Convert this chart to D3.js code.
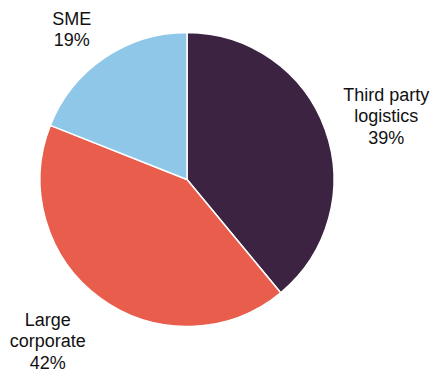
<!DOCTYPE html>
<html>
<head>
<meta charset="utf-8">
<script src="https://cdn.jsdelivr.net/npm/d3@7"></script>
<style>
  html, body { margin: 0; padding: 0; background: #fff; }
  svg { display: block; }
  text { font-family: "Liberation Sans", Arial, sans-serif; font-size: 18px; fill: #111; }
</style>
</head>
<body>
<script>
// Share of customers by segment
const categories = ["Third party logistics", "Large corporate", "SME"];
const labelLines = [["Third party", "logistics"], ["Large", "corporate"], ["SME"]];
const values = [39, 42, 19];
const colors = ["#3c2341", "#e85d4c", "#8fc7e8"];

const width = 431, height = 372;
const cx = 187, cy = 179.5, radius = 147;

// label placement: distance from centre and small nudges per slice
const labelRadius = [210, 205, 190];
const labelNudge = [[1.7, 7.5], [-18.8, -4.5], [-8.5, 7]];

const svg = d3.select("body").append("svg")
  .attr("width", width).attr("height", height);

const g = svg.append("g").attr("transform", `translate(${cx},${cy})`);

const pie = d3.pie().sort(null).value(d => d)(values);
const arc = d3.arc().innerRadius(0).outerRadius(radius);

g.selectAll("path.slice").data(pie).join("path")
  .attr("class", "slice")
  .attr("d", arc)
  .attr("fill", (d, i) => colors[i])
  .attr("stroke", "#fff")
  .attr("stroke-width", 1.5)
  .attr("stroke-linejoin", "round");

const lineH = 21.4;
pie.forEach((d, i) => {
  const mid = (d.startAngle + d.endAngle) / 2;
  const r = labelRadius[i];
  const x = Math.sin(mid) * r + labelNudge[i][0];
  const y = -Math.cos(mid) * r + labelNudge[i][1];
  const lines = labelLines[i].concat([values[i] + "%"]);
  const t = g.append("text")
    .attr("text-anchor", "middle")
    .attr("x", x)
    .attr("y", y - (lines.length - 1) * lineH / 2);
  lines.forEach((s, k) => {
    t.append("tspan").attr("x", x).attr("dy", k === 0 ? "0.35em" : lineH).text(s);
  });
});
</script>
</body>
</html>
